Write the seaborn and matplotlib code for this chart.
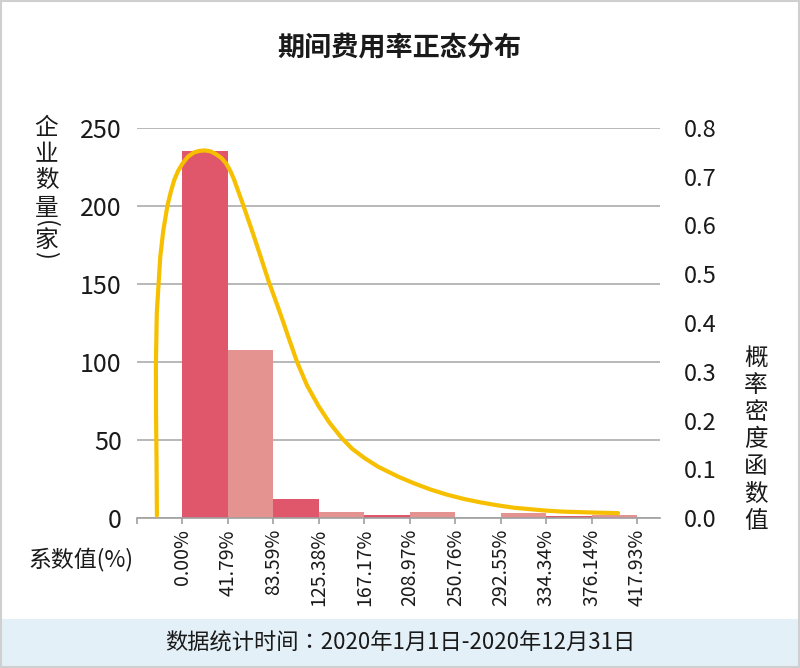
import numpy as np
import pandas as pd
import matplotlib
matplotlib.use("Agg")
import matplotlib.pyplot as plt
from matplotlib.patches import Rectangle
import seaborn as sns

# ------------------------------
# DATA
# ------------------------------
tick_labels = ["0.00%", "41.79%", "83.59%", "125.38%", "167.17%", "208.97%",
               "250.76%", "292.55%", "334.34%", "376.14%", "417.93%"]
bin_edges = [0.00, 41.79, 83.59, 125.38, 167.17, 208.97,
             250.76, 292.55, 334.34, 376.14, 417.93]
counts = [235, 108, 12, 4, 2, 4, 0, 3, 1, 2]

# density curve, x in %, y = pdf value
curve_x = [-23.5, -23.8, -24.3, -24.4, -23.6, -21.9, -20.4, -17.6, -13.7, -10.6,
           -7.6, -4.0, 0.0, 5.0, 10.7, 15.5, 20.8, 26.0, 31.1, 36.0,
           40.2, 44.0, 47.3, 54.9, 64.0, 71.6, 79.3, 85.5, 91.4, 98.0,
           105.2, 114.5, 125.0, 135.0, 146.0, 156.0, 167.3, 180.0, 198.2, 213.0,
           228.6, 243.0, 258.8, 274.0, 289.6, 305.0, 320.0, 335.0, 350.2, 365.0,
           381.0, 400.5]
curve_y = [0.005, 0.111, 0.214, 0.317, 0.420, 0.482, 0.536, 0.590, 0.642, 0.670,
           0.693, 0.712, 0.727, 0.741, 0.750, 0.753, 0.754, 0.752, 0.746, 0.738,
           0.727, 0.712, 0.695, 0.648, 0.589, 0.538, 0.485, 0.447, 0.410, 0.367,
           0.321, 0.272, 0.230, 0.196, 0.165, 0.142, 0.123, 0.105, 0.085, 0.071,
           0.058, 0.048, 0.039, 0.032, 0.026, 0.021, 0.018, 0.015, 0.013, 0.012,
           0.011, 0.010]

title = "期间费用率正态分布"
left_label = ["企", "业", "数", "量", "(", "家", ")"]
right_label = "概率密度函数值"
x_label = "系数值(%)"
footer = "数据统计时间：2020年1月1日-2020年12月31日"

# ------------------------------
# STYLE
# ------------------------------
sns.set_theme(style="white")
plt.rcParams["font.family"] = ["Noto Sans CJK SC", "DejaVu Sans"]
plt.rcParams["axes.unicode_minus"] = False

DARK = "#E0566B"
LIGHT = "#E49390"
GOLD = "#F6C000"
GRID = "#ABABAB"
TXT = "#1A1A1A"

W, H = 800, 668
fig = plt.figure(figsize=(W / 100, H / 100), dpi=100)


def fx(px):
    return px / W


def fy(py):
    return 1 - py / H


# plot area in pixels: x 137..660, y 128..518
ax = fig.add_axes([fx(137), fy(518), fx(660) - fx(137), fy(128) - fy(518)])

bin_width = bin_edges[1] - bin_edges[0]
centers = [e + bin_width / 2 for e in bin_edges[:-1]]
df = pd.DataFrame({"x": centers, "n": counts})
sns.histplot(data=df, x="x", weights="n", bins=bin_edges, ax=ax,
             stat="count", linewidth=0, alpha=1, zorder=2)
for i, p in enumerate(ax.patches):
    p.set_facecolor(DARK if i % 2 == 0 else LIGHT)
    p.set_edgecolor("none")

ax.set_xlim(-bin_width, 439)
ax.set_ylim(0, 250)
ax.set_yticks(range(0, 251, 50))
ax.set_xticks([-bin_width] + bin_edges)
ax.set_xticklabels([""] + tick_labels, rotation=90, fontsize=14, color=TXT)
ax.set_yticklabels([str(v) for v in range(0, 251, 50)], fontsize=18, color=TXT)
ax.set_xlabel("")
ax.set_ylabel("")
ax.set_axisbelow(True)
ax.yaxis.grid(True, color=GRID, linewidth=1.2)
ax.xaxis.grid(False)
for s in ["top", "left", "right"]:
    ax.spines[s].set_visible(False)
ax.spines["bottom"].set_color("#A0A0A0")
ax.spines["bottom"].set_linewidth(1.2)
ax.tick_params(axis="x", direction="out", length=4, width=1.2, color="#A0A0A0",
               pad=4, bottom=True)
ax.tick_params(axis="y", length=0, pad=11)

# density curve on right axis
ax2 = ax.twinx()
curve = pd.DataFrame({"x": curve_x, "d": curve_y})
sns.lineplot(data=curve, x="x", y="d", ax=ax2, sort=False, estimator=None,
             color=GOLD, linewidth=3, solid_capstyle="round",
             solid_joinstyle="round", zorder=3)
ax2.set_ylim(0, 0.8)
ax2.set_yticks(np.arange(0, 0.81, 0.1))
ax2.set_yticklabels([f"{v:.1f}" for v in np.arange(0, 0.81, 0.1)],
                    fontsize=17, color=TXT)
ax2.set_ylabel("")
ax2.set_xlabel("")
ax2.grid(False)
for s in ax2.spines.values():
    s.set_visible(False)
ax2.tick_params(axis="y", length=0, pad=17)

# ------------------------------
# TEXTS
# ------------------------------
fig.text(fx(399), fy(47), title, ha="center", va="center", fontsize=19.5,
         fontweight="bold", color=TXT)

# vertical label, brackets turned like in vertical writing
left_y = [128, 155, 180.5, 208.5, 224, 240, 255]
for ch, py in zip(left_label, left_y):
    rot = -90 if ch in "()" else 0
    fig.text(fx(46.5), fy(py), ch, ha="center", va="center", fontsize=17,
             rotation=rot, color=TXT)

for i, ch in enumerate(right_label):
    fig.text(fx(756), fy(358 + i * 27.2), ch, ha="center", va="center",
             fontsize=17, color=TXT)

fig.text(fx(80.5), fy(559), x_label, ha="center", va="center", fontsize=16.5,
         color=TXT)

# footer band + border
fig.patches.append(Rectangle((fx(2), fy(666)), fx(796), 47 / H,
                             transform=fig.transFigure, facecolor="#E4F0F7",
                             edgecolor="none", zorder=0))
fig.patches.append(Rectangle((0.001, 0.001), 0.998, 0.998,
                             transform=fig.transFigure, facecolor="none",
                             edgecolor="#CFCFCF", linewidth=1.5, zorder=0))
fig.text(fx(400), fy(643), footer, ha="center", va="center", fontsize=16,
         color=TXT, family=["Noto Sans CJK TC", "DejaVu Sans"])

fig.savefig("out.png", dpi=100)
